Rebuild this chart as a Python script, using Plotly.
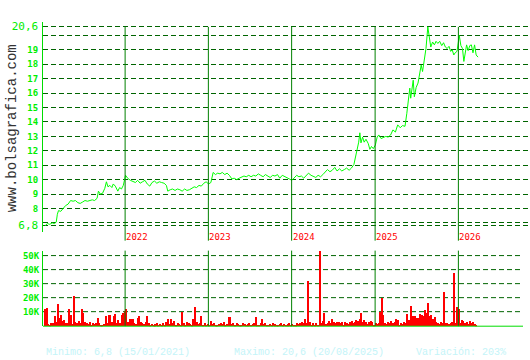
import plotly.graph_objects as go
import pandas as pd

# ---------------- data ----------------
price_dates = [
"2021-01-15","2021-01-25","2021-02-05","2021-02-15","2021-02-25","2021-03-05","2021-03-10","2021-03-15","2021-03-25",
"2021-04-05","2021-04-15","2021-04-26","2021-05-07","2021-05-18","2021-05-28","2021-06-08","2021-06-18","2021-06-29",
"2021-07-09","2021-07-20","2021-07-30","2021-08-10","2021-08-20","2021-08-31","2021-09-06","2021-09-14","2021-09-24",
"2021-10-04","2021-10-11","2021-10-18","2021-10-26","2021-11-04","2021-11-10","2021-11-19","2021-11-30","2021-12-08",
"2021-12-16","2021-12-24","2022-01-03","2022-01-12","2022-01-24","2022-02-04","2022-02-15","2022-02-25","2022-03-08",
"2022-03-18","2022-03-29","2022-04-08","2022-04-19","2022-04-29","2022-05-10","2022-05-20","2022-05-31","2022-06-10",
"2022-06-21","2022-07-01","2022-07-07","2022-07-18","2022-07-28","2022-08-08","2022-08-18","2022-08-29","2022-09-08",
"2022-09-19","2022-09-29","2022-10-10","2022-10-20","2022-10-31","2022-11-10","2022-11-21","2022-12-01","2022-12-12",
"2022-12-22","2023-01-02","2023-01-12","2023-01-22","2023-02-01","2023-02-11","2023-02-21","2023-03-03","2023-03-14",
"2023-03-24","2023-04-03","2023-04-14","2023-04-24","2023-05-05","2023-05-16","2023-05-26","2023-06-06","2023-06-16",
"2023-06-27","2023-07-07","2023-07-18","2023-07-28","2023-08-08","2023-08-18","2023-08-29","2023-09-08","2023-09-19",
"2023-09-29","2023-10-10","2023-10-20","2023-10-31","2023-11-10","2023-11-21","2023-12-01","2023-12-12","2023-12-22",
"2024-01-02","2024-01-12","2024-01-23","2024-02-02","2024-02-13","2024-02-23","2024-03-05","2024-03-15","2024-03-26",
"2024-04-05","2024-04-16","2024-04-26","2024-05-07","2024-05-17","2024-05-27","2024-06-06","2024-06-17","2024-06-27",
"2024-07-08","2024-07-18","2024-07-29","2024-08-08","2024-08-19","2024-08-29","2024-09-09","2024-09-19","2024-09-30",
"2024-10-07","2024-10-14","2024-10-21","2024-10-26","2024-10-31","2024-11-07","2024-11-14","2024-11-22","2024-12-02",
"2024-12-09","2024-12-16","2024-12-24","2025-01-02","2025-01-10","2025-01-17","2025-01-27","2025-02-06","2025-02-17",
"2025-02-27","2025-03-10","2025-03-20","2025-03-31","2025-04-10","2025-04-21","2025-05-01","2025-05-12","2025-05-20",
"2025-05-27","2025-06-02","2025-06-06","2025-06-12","2025-06-17","2025-06-22","2025-06-30","2025-07-08","2025-07-15",
"2025-07-22","2025-07-28","2025-08-05","2025-08-12","2025-08-20","2025-08-26","2025-09-02","2025-09-10","2025-09-18",
"2025-09-25","2025-10-03","2025-10-11","2025-10-20","2025-10-28","2025-11-05","2025-11-13","2025-11-21","2025-11-28",
"2025-12-05","2025-12-12","2025-12-18","2025-12-26","2026-01-05","2026-01-12","2026-01-19","2026-01-25","2026-01-30",
"2026-02-06","2026-02-13","2026-02-20","2026-02-27","2026-03-06","2026-03-13","2026-03-20","2026-03-28",
]
price_values = [
6.8,6.95,6.9,7.0,6.95,7.05,7.6,7.85,7.8,
8.0,8.2,8.3,8.55,8.5,8.55,8.4,8.35,8.45,
8.55,8.5,8.55,8.6,8.55,8.7,9.2,9.0,9.05,
9.4,9.85,9.5,9.6,9.45,9.7,9.55,9.2,9.45,
9.35,9.6,10.3,10.1,9.95,9.9,9.8,9.95,9.75,
9.85,9.95,9.7,9.55,9.8,9.9,9.75,9.85,9.8,
9.75,9.6,9.2,9.3,9.35,9.25,9.35,9.3,9.2,
9.35,9.25,9.3,9.4,9.5,9.45,9.6,9.55,9.75,
9.85,9.7,9.8,10.5,10.35,10.45,10.4,10.5,10.35,
10.45,10.3,10.05,10.1,10.0,10.1,10.15,10.25,10.2,
10.3,10.2,10.3,10.25,10.4,10.3,10.2,10.35,10.25,
10.15,10.3,10.25,10.35,10.1,10.3,10.2,10.1,10.05,
9.95,10.1,10.3,10.2,10.25,10.1,10.3,10.45,10.3,
10.2,10.15,10.3,10.2,10.35,10.55,10.7,10.55,10.65,
10.85,10.6,10.75,10.6,10.7,10.8,10.65,10.8,11.05,
11.5,12.0,12.6,13.25,12.55,12.95,12.6,12.8,12.5,
12.1,12.3,12.15,12.4,12.95,13.1,12.85,12.9,13.0,
12.95,13.1,13.45,13.3,13.8,13.6,13.75,13.7,14.6,
15.5,16.35,15.65,16.6,16.9,15.75,16.4,16.7,17.3,
17.95,17.5,18.3,19.1,20.6,20.0,19.2,19.55,19.35,
19.6,19.45,19.6,19.3,19.5,19.2,19.1,19.25,18.9,
19.0,18.65,18.8,18.9,20.0,19.3,19.1,18.2,18.6,
19.35,18.95,19.3,19.35,18.8,19.35,18.65,18.5,
]

volume_start = "2021-01-15"   # weekly volume bars start here
volume_k = [
12.4,12.9,1.5,0.8,2.0,2.5,7.0,3.0,16.0,6.0,
8.0,3.5,4.0,2.0,2.5,12.4,8.0,1.5,21.4,3.0,
2.5,3.5,2.0,12.0,9.5,3.0,2.5,1.5,3.0,1.0,
2.0,1.5,2.5,6.0,2.0,1.0,0.8,1.5,7.0,2.0,
7.6,8.0,3.0,7.0,8.3,2.0,4.0,2.5,7.6,9.5,
10.7,12.4,3.0,4.8,4.8,4.8,2.0,1.5,6.0,7.0,
3.0,2.5,1.5,3.0,7.0,2.0,1.0,1.5,0.8,1.2,
2.0,1.0,1.5,0.8,2.5,1.0,3.0,4.8,1.5,4.8,
2.0,3.5,1.0,2.0,1.5,0.8,10.0,2.0,1.0,3.0,
2.0,1.5,1.0,5.0,13.6,3.0,1.5,2.0,7.0,1.0,
2.5,0.8,1.5,1.0,3.5,1.5,2.0,0.8,1.0,1.5,
2.5,1.5,3.0,1.0,1.5,6.4,6.4,1.5,2.0,1.0,
2.5,1.5,0.8,1.0,2.0,1.5,0.8,1.2,2.5,1.0,
1.5,2.0,6.7,1.0,0.8,2.0,5.0,1.5,2.5,1.0,
0.8,1.5,1.0,2.0,1.2,0.8,1.0,1.5,2.0,1.0,
1.5,0.8,1.2,2.0,1.0,1.5,0.8,1.0,2.0,1.5,
2.5,3.0,2.0,5.0,2.0,32.0,3.0,1.0,2.0,1.0,
2.5,1.0,53.5,2.0,3.5,9.5,1.5,2.0,3.5,2.0,
5.0,3.0,2.0,3.0,3.0,2.5,3.0,1.0,3.0,2.0,
1.5,3.0,3.5,2.5,3.0,4.0,3.5,5.0,9.5,3.0,
4.3,3.0,1.5,3.0,3.5,3.0,1.0,2.0,1.5,2.0,
10.0,19.8,8.0,2.0,1.5,3.0,2.5,3.5,2.0,3.0,
5.0,4.5,1.0,2.0,1.5,3.0,2.5,8.8,4.0,14.3,
7.0,7.0,7.0,6.0,5.5,8.3,7.6,7.0,11.4,9.5,
16.2,7.0,7.6,5.0,6.4,3.0,2.0,1.5,3.0,2.0,
24.3,2.0,2.5,1.5,2.0,3.0,38.0,2.5,13.6,12.0,
2.0,4.3,3.5,2.0,3.0,1.5,3.5,2.0,3.0,1.5,
1.0,
]
volume_dates = pd.date_range(volume_start, periods=len(volume_k), freq="7D")

year_marks = ["2022-01-01", "2023-01-01", "2024-01-01", "2025-01-01", "2026-01-01"]
year_labels = ["2022", "2023", "2024", "2025", "2026"]

price_ticks = [6.8, 7, 8, 9, 10, 11, 12, 13, 14, 15, 16, 17, 18, 19, 20, 20.6]
price_ticktext = ["<span style='font-size:11px;font-weight:normal'>6,8</span>", "",
                  "8", "9", "10", "11", "12", "13", "14", "15", "16", "17", "18", "19", "",
                  "<span style='font-size:11px;font-weight:normal'>20,6</span>"]
vol_ticks = [10, 20, 30, 40, 50]
vol_ticktext = ["10K", "20K", "30K", "40K", "50K"]

footer_texts = ["Minimo: 6,8 (15/01/2021)", "Maximo: 20,6 (20/08/2025)", "Variación: 203%"]
footer_x = [44, 232, 414]

# ---------------- layout constants ----------------
W, H = 530, 360
L = 43
PW = W - L
def py(px):  # pixel y -> paper fraction
    return 1 - px / H
def pxx(px):  # pixel x -> paper fraction
    return (px - L) / PW

GRID = "#006400"
AXIS = "#00dd00"
VLINE = "#008000"
LABEL = "#00ee00"
MONO = "DejaVu Sans Mono"

fig = go.Figure()
fig.add_trace(go.Scatter(x=price_dates, y=price_values, mode="lines",
                         line=dict(color="#00ff00", width=1), xaxis="x", yaxis="y",
                         hoverinfo="skip", showlegend=False))
fig.add_trace(go.Bar(x=volume_dates, y=volume_k, marker=dict(color="#ff0000", line=dict(width=0)),
                     width=5 * 86400000, xaxis="x2", yaxis="y2", hoverinfo="skip", showlegend=False))

xrange = ["2021-01-06", "2026-11-11"]
ppu = 200 / 13.8
y_top_px, y_bot_px = 20, 231
yr = [6.8 - (y_bot_px - 225) / ppu, 20.6 + (25 - y_top_px) / ppu]
vr = [-(326 - 325.5) / 1.41, (325.5 - 250) / 1.41]

fig.update_layout(
    width=W, height=H, margin=dict(l=L, r=0, t=0, b=0),
    paper_bgcolor="white", plot_bgcolor="white",
    showlegend=False, hovermode=False, bargap=0,
    xaxis=dict(domain=[0, 1], anchor="y", range=xrange, type="date",
               showgrid=False, showticklabels=False, zeroline=False, showline=False, ticks=""),
    xaxis2=dict(domain=[0, 1], anchor="y2", range=xrange, type="date", matches="x",
                showgrid=False, showticklabels=False, zeroline=False, showline=False, ticks=""),
    yaxis=dict(domain=[py(y_bot_px), py(y_top_px)], range=yr, anchor="x",
               tickvals=price_ticks, ticktext=price_ticktext,
               tickfont=dict(family=MONO, size=9, color=LABEL, weight="bold"),
               showgrid=True, gridcolor=GRID, gridwidth=1, griddash="5px,3px",
               zeroline=False, showline=True, linecolor=AXIS, linewidth=1, ticks="",
               ticklabelstandoff=2),
    yaxis2=dict(domain=[py(326), py(250)], range=vr, anchor="x2",
                tickvals=vol_ticks, ticktext=vol_ticktext,
                tickfont=dict(family=MONO, size=9, color=LABEL, weight="bold"),
                showgrid=False, zeroline=False, showline=True, linecolor=AXIS, linewidth=1,
                ticks="", ticklabelstandoff=1),
)

shapes = []
for d in year_marks:
    shapes.append(dict(type="line", xref="x", yref="paper", x0=d, x1=d,
                       y0=py(240), y1=py(25), line=dict(color=VLINE, width=1)))
    shapes.append(dict(type="line", xref="x", yref="paper", x0=d, x1=d,
                       y0=py(326), y1=py(250), line=dict(color=VLINE, width=1)))
for v in vol_ticks:
    shapes.append(dict(type="line", xref="paper", yref="y2", x0=0, x1=pxx(522), y0=v, y1=v,
                       line=dict(color=GRID, width=1, dash="5px,3px"), layer="below"))
shapes.append(dict(type="line", xref="paper", yref="paper", x0=0, x1=pxx(523),
                   y0=py(326), y1=py(326), line=dict(color=AXIS, width=1)))
fig.update_layout(shapes=shapes)

ann = []
for d, t in zip(year_marks, year_labels):
    ann.append(dict(x=d, y=py(236), xref="x", yref="paper", text=t, showarrow=False,
                    xanchor="left", yanchor="middle", xshift=-1,
                    font=dict(family=MONO, size=9, color="#ff0000")))
ann.append(dict(x=-31 / PW, y=py(127), xref="paper", yref="paper", text="www.bolsagrafica.com",
                showarrow=False, textangle=-90, xanchor="center", yanchor="middle",
                font=dict(family="Liberation Mono", size=14, color="#333333")))
for t, x in zip(footer_texts, footer_x):
    ann.append(dict(x=pxx(x), y=py(352), xref="paper", yref="paper", text=t, showarrow=False,
                    xanchor="left", yanchor="middle",
                    font=dict(family="Liberation Mono", size=10, color="#c4f4f8")))
fig.update_layout(annotations=ann)

fig.write_html("out.html")
